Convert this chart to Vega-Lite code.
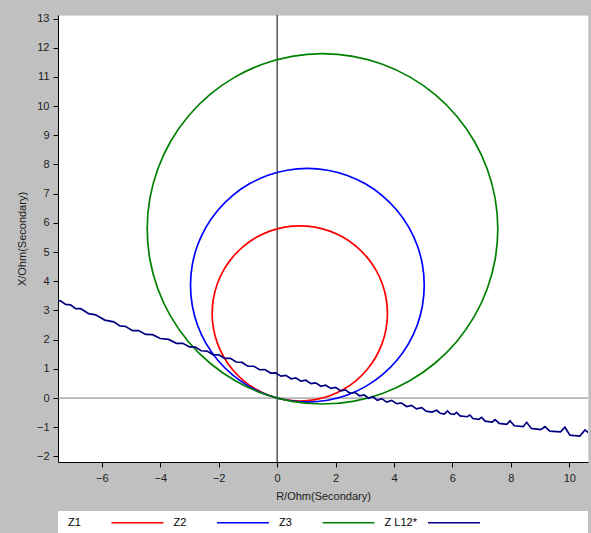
{
"$schema": "https://vega.github.io/schema/vega-lite/v6.json",
"width": 530, "height": 447,
"autosize": {"type": "none"},
"padding": {"left": 58, "top": 15, "right": 3, "bottom": 71},
"background": "#c0c0c0",
"config": {
  "view": {"fill": "#ffffff", "stroke": "#d8d8d8", "strokeWidth": 1},
  "axis": {"labelFont": "Liberation Sans", "labelFontSize": 11, "labelColor": "#202020", "titleFont": "Liberation Sans", "titleFontSize": 11, "titleFontWeight": "normal", "titleColor": "#202020", "domainColor": "#000000", "tickColor": "#000000", "tickSize": 5, "grid": false, "domainWidth": 1, "labelOverlap": false},
  "legend": {"orient": "bottom", "direction": "horizontal", "symbolType": "M 45 0 L 97 0", "symbolSize": 4, "symbolOffset": -3, "labelOffset": -4, "padding": 6, "fillColor": "#ffffff", "offset": 10, "columnPadding": 2.5, "labelFont": "Liberation Sans", "labelFontSize": 11, "labelColor": "#000000", "titleOrient": "right", "titlePadding": 99, "titleFontSize": 11}
},
"datasets": {
  "zero": [{"v": 0}],
  "circles": [
{"s":"Z1","i":0,"x":3.776,"y":2.898},{"s":"Z1","i":1,"x":3.730,"y":3.419},{"s":"Z1","i":2,"x":3.595,"y":3.924},{"s":"Z1","i":3,"x":3.374,"y":4.398},{"s":"Z1","i":4,"x":3.074,"y":4.826},{"s":"Z1","i":5,"x":2.704,"y":5.196},{"s":"Z1","i":6,"x":2.276,"y":5.496},{"s":"Z1","i":7,"x":1.802,"y":5.717},{"s":"Z1","i":8,"x":1.297,"y":5.852},{"s":"Z1","i":9,"x":0.776,"y":5.898},{"s":"Z1","i":10,"x":0.255,"y":5.852},{"s":"Z1","i":11,"x":-0.250,"y":5.717},{"s":"Z1","i":12,"x":-0.724,"y":5.496},{"s":"Z1","i":13,"x":-1.152,"y":5.196},{"s":"Z1","i":14,"x":-1.522,"y":4.826},{"s":"Z1","i":15,"x":-1.822,"y":4.398},{"s":"Z1","i":16,"x":-2.043,"y":3.924},{"s":"Z1","i":17,"x":-2.178,"y":3.419},{"s":"Z1","i":18,"x":-2.224,"y":2.898},{"s":"Z1","i":19,"x":-2.178,"y":2.377},{"s":"Z1","i":20,"x":-2.043,"y":1.872},{"s":"Z1","i":21,"x":-1.822,"y":1.398},{"s":"Z1","i":22,"x":-1.522,"y":0.970},{"s":"Z1","i":23,"x":-1.152,"y":0.600},{"s":"Z1","i":24,"x":-0.724,"y":0.300},{"s":"Z1","i":25,"x":-0.250,"y":0.079},{"s":"Z1","i":26,"x":0.255,"y":-0.056},{"s":"Z1","i":27,"x":0.776,"y":-0.102},{"s":"Z1","i":28,"x":1.297,"y":-0.056},{"s":"Z1","i":29,"x":1.802,"y":0.079},{"s":"Z1","i":30,"x":2.276,"y":0.300},{"s":"Z1","i":31,"x":2.704,"y":0.600},{"s":"Z1","i":32,"x":3.074,"y":0.970},{"s":"Z1","i":33,"x":3.374,"y":1.398},{"s":"Z1","i":34,"x":3.595,"y":1.872},{"s":"Z1","i":35,"x":3.730,"y":2.377},
{"s":"Z2","i":0,"x":5.035,"y":3.864},{"s":"Z2","i":1,"x":4.974,"y":4.559},{"s":"Z2","i":2,"x":4.794,"y":5.232},{"s":"Z2","i":3,"x":4.499,"y":5.864},{"s":"Z2","i":4,"x":4.099,"y":6.435},{"s":"Z2","i":5,"x":3.606,"y":6.928},{"s":"Z2","i":6,"x":3.035,"y":7.328},{"s":"Z2","i":7,"x":2.403,"y":7.623},{"s":"Z2","i":8,"x":1.730,"y":7.803},{"s":"Z2","i":9,"x":1.035,"y":7.864},{"s":"Z2","i":10,"x":0.340,"y":7.803},{"s":"Z2","i":11,"x":-0.333,"y":7.623},{"s":"Z2","i":12,"x":-0.965,"y":7.328},{"s":"Z2","i":13,"x":-1.536,"y":6.928},{"s":"Z2","i":14,"x":-2.029,"y":6.435},{"s":"Z2","i":15,"x":-2.429,"y":5.864},{"s":"Z2","i":16,"x":-2.724,"y":5.232},{"s":"Z2","i":17,"x":-2.904,"y":4.559},{"s":"Z2","i":18,"x":-2.965,"y":3.864},{"s":"Z2","i":19,"x":-2.904,"y":3.169},{"s":"Z2","i":20,"x":-2.724,"y":2.496},{"s":"Z2","i":21,"x":-2.429,"y":1.864},{"s":"Z2","i":22,"x":-2.029,"y":1.293},{"s":"Z2","i":23,"x":-1.536,"y":0.800},{"s":"Z2","i":24,"x":-0.965,"y":0.400},{"s":"Z2","i":25,"x":-0.333,"y":0.105},{"s":"Z2","i":26,"x":0.340,"y":-0.075},{"s":"Z2","i":27,"x":1.035,"y":-0.136},{"s":"Z2","i":28,"x":1.730,"y":-0.075},{"s":"Z2","i":29,"x":2.403,"y":0.105},{"s":"Z2","i":30,"x":3.035,"y":0.400},{"s":"Z2","i":31,"x":3.606,"y":0.800},{"s":"Z2","i":32,"x":4.099,"y":1.293},{"s":"Z2","i":33,"x":4.499,"y":1.864},{"s":"Z2","i":34,"x":4.794,"y":2.496},{"s":"Z2","i":35,"x":4.974,"y":3.169},
{"s":"Z3","i":0,"x":7.553,"y":5.796},{"s":"Z3","i":1,"x":7.462,"y":6.838},{"s":"Z3","i":2,"x":7.191,"y":7.848},{"s":"Z3","i":3,"x":6.749,"y":8.796},{"s":"Z3","i":4,"x":6.149,"y":9.653},{"s":"Z3","i":5,"x":5.410,"y":10.392},{"s":"Z3","i":6,"x":4.553,"y":10.992},{"s":"Z3","i":7,"x":3.605,"y":11.434},{"s":"Z3","i":8,"x":2.595,"y":11.705},{"s":"Z3","i":9,"x":1.553,"y":11.796},{"s":"Z3","i":10,"x":0.511,"y":11.705},{"s":"Z3","i":11,"x":-0.499,"y":11.434},{"s":"Z3","i":12,"x":-1.447,"y":10.992},{"s":"Z3","i":13,"x":-2.304,"y":10.392},{"s":"Z3","i":14,"x":-3.043,"y":9.653},{"s":"Z3","i":15,"x":-3.643,"y":8.796},{"s":"Z3","i":16,"x":-4.085,"y":7.848},{"s":"Z3","i":17,"x":-4.356,"y":6.838},{"s":"Z3","i":18,"x":-4.447,"y":5.796},{"s":"Z3","i":19,"x":-4.356,"y":4.754},{"s":"Z3","i":20,"x":-4.085,"y":3.744},{"s":"Z3","i":21,"x":-3.643,"y":2.796},{"s":"Z3","i":22,"x":-3.043,"y":1.939},{"s":"Z3","i":23,"x":-2.304,"y":1.200},{"s":"Z3","i":24,"x":-1.447,"y":0.600},{"s":"Z3","i":25,"x":-0.499,"y":0.158},{"s":"Z3","i":26,"x":0.511,"y":-0.113},{"s":"Z3","i":27,"x":1.553,"y":-0.204},{"s":"Z3","i":28,"x":2.595,"y":-0.113},{"s":"Z3","i":29,"x":3.605,"y":0.158},{"s":"Z3","i":30,"x":4.553,"y":0.600},{"s":"Z3","i":31,"x":5.410,"y":1.200},{"s":"Z3","i":32,"x":6.149,"y":1.939},{"s":"Z3","i":33,"x":6.749,"y":2.796},{"s":"Z3","i":34,"x":7.191,"y":3.744},{"s":"Z3","i":35,"x":7.462,"y":4.754}
  ],
  "zl": [
{"s":"Z L12*","i":0,"x":-7.58,"y":3.43},{"s":"Z L12*","i":1,"x":-7.48,"y":3.34},{"s":"Z L12*","i":2,"x":-7.41,"y":3.33},{"s":"Z L12*","i":3,"x":-7.24,"y":3.21},{"s":"Z L12*","i":4,"x":-7.07,"y":3.19},{"s":"Z L12*","i":5,"x":-6.9,"y":3.065},{"s":"Z L12*","i":6,"x":-6.72,"y":3.06},{"s":"Z L12*","i":7,"x":-6.45,"y":2.89},{"s":"Z L12*","i":8,"x":-6.21,"y":2.85},{"s":"Z L12*","i":9,"x":-5.9,"y":2.67},{"s":"Z L12*","i":10,"x":-5.59,"y":2.61},{"s":"Z L12*","i":11,"x":-5.38,"y":2.47},{"s":"Z L12*","i":12,"x":-5.18,"y":2.45},{"s":"Z L12*","i":13,"x":-4.95,"y":2.31},{"s":"Z L12*","i":14,"x":-4.74,"y":2.31},{"s":"Z L12*","i":15,"x":-4.5,"y":2.18},{"s":"Z L12*","i":16,"x":-4.26,"y":2.17},{"s":"Z L12*","i":17,"x":-4.0,"y":2.04},{"s":"Z L12*","i":18,"x":-3.71,"y":2.01},{"s":"Z L12*","i":19,"x":-3.45,"y":1.875},{"s":"Z L12*","i":20,"x":-3.23,"y":1.875},{"s":"Z L12*","i":21,"x":-3.0,"y":1.75},{"s":"Z L12*","i":22,"x":-2.8,"y":1.745},{"s":"Z L12*","i":23,"x":-2.6,"y":1.62},{"s":"Z L12*","i":24,"x":-2.4,"y":1.61},{"s":"Z L12*","i":25,"x":-2.2,"y":1.49},{"s":"Z L12*","i":26,"x":-2.0,"y":1.48},{"s":"Z L12*","i":27,"x":-1.8,"y":1.36},{"s":"Z L12*","i":28,"x":-1.6,"y":1.36},{"s":"Z L12*","i":29,"x":-1.4,"y":1.235},{"s":"Z L12*","i":30,"x":-1.2,"y":1.22},{"s":"Z L12*","i":31,"x":-1.0,"y":1.09},{"s":"Z L12*","i":32,"x":-0.8,"y":1.09},{"s":"Z L12*","i":33,"x":-0.6,"y":0.97},{"s":"Z L12*","i":34,"x":-0.42,"y":0.975},{"s":"Z L12*","i":35,"x":-0.22,"y":0.855},{"s":"Z L12*","i":36,"x":-0.05,"y":0.865},{"s":"Z L12*","i":37,"x":0.13,"y":0.75},{"s":"Z L12*","i":38,"x":0.3,"y":0.777},{"s":"Z L12*","i":39,"x":0.48,"y":0.66},{"s":"Z L12*","i":40,"x":0.64,"y":0.69},{"s":"Z L12*","i":41,"x":0.82,"y":0.578},{"s":"Z L12*","i":42,"x":0.98,"y":0.61},{"s":"Z L12*","i":43,"x":1.16,"y":0.493},{"s":"Z L12*","i":44,"x":1.32,"y":0.52},{"s":"Z L12*","i":45,"x":1.5,"y":0.405},{"s":"Z L12*","i":46,"x":1.66,"y":0.44},{"s":"Z L12*","i":47,"x":1.84,"y":0.33},{"s":"Z L12*","i":48,"x":2.0,"y":0.365},{"s":"Z L12*","i":49,"x":2.17,"y":0.25},{"s":"Z L12*","i":50,"x":2.33,"y":0.28},{"s":"Z L12*","i":51,"x":2.5,"y":0.165},{"s":"Z L12*","i":52,"x":2.66,"y":0.195},{"s":"Z L12*","i":53,"x":2.82,"y":0.08},{"s":"Z L12*","i":54,"x":2.98,"y":0.11},{"s":"Z L12*","i":55,"x":3.13,"y":-0.005},{"s":"Z L12*","i":56,"x":3.28,"y":0.045},{"s":"Z L12*","i":57,"x":3.43,"y":-0.08},{"s":"Z L12*","i":58,"x":3.58,"y":-0.02},{"s":"Z L12*","i":59,"x":3.75,"y":-0.14},{"s":"Z L12*","i":60,"x":3.92,"y":-0.08},{"s":"Z L12*","i":61,"x":4.09,"y":-0.19},{"s":"Z L12*","i":62,"x":4.26,"y":-0.17},{"s":"Z L12*","i":63,"x":4.43,"y":-0.29},{"s":"Z L12*","i":64,"x":4.6,"y":-0.25},{"s":"Z L12*","i":65,"x":4.77,"y":-0.37},{"s":"Z L12*","i":66,"x":4.95,"y":-0.33},{"s":"Z L12*","i":67,"x":5.1,"y":-0.45},{"s":"Z L12*","i":68,"x":5.3,"y":-0.48},{"s":"Z L12*","i":69,"x":5.46,"y":-0.42},{"s":"Z L12*","i":70,"x":5.58,"y":-0.52},{"s":"Z L12*","i":71,"x":5.72,"y":-0.55},{"s":"Z L12*","i":72,"x":5.83,"y":-0.44},{"s":"Z L12*","i":73,"x":5.93,"y":-0.54},{"s":"Z L12*","i":74,"x":6.06,"y":-0.56},{"s":"Z L12*","i":75,"x":6.14,"y":-0.49},{"s":"Z L12*","i":76,"x":6.26,"y":-0.61},{"s":"Z L12*","i":77,"x":6.5,"y":-0.64},{"s":"Z L12*","i":78,"x":6.6,"y":-0.58},{"s":"Z L12*","i":79,"x":6.7,"y":-0.7},{"s":"Z L12*","i":80,"x":6.9,"y":-0.73},{"s":"Z L12*","i":81,"x":7.0,"y":-0.66},{"s":"Z L12*","i":82,"x":7.12,"y":-0.79},{"s":"Z L12*","i":83,"x":7.36,"y":-0.82},{"s":"Z L12*","i":84,"x":7.46,"y":-0.74},{"s":"Z L12*","i":85,"x":7.6,"y":-0.87},{"s":"Z L12*","i":86,"x":7.86,"y":-0.9},{"s":"Z L12*","i":87,"x":7.97,"y":-0.78},{"s":"Z L12*","i":88,"x":8.12,"y":-0.95},{"s":"Z L12*","i":89,"x":8.42,"y":-0.98},{"s":"Z L12*","i":90,"x":8.54,"y":-0.83},{"s":"Z L12*","i":91,"x":8.7,"y":-1.04},{"s":"Z L12*","i":92,"x":9.02,"y":-1.08},{"s":"Z L12*","i":93,"x":9.17,"y":-0.98},{"s":"Z L12*","i":94,"x":9.33,"y":-1.13},{"s":"Z L12*","i":95,"x":9.7,"y":-1.16},{"s":"Z L12*","i":96,"x":9.85,"y":-1.0},{"s":"Z L12*","i":97,"x":10.02,"y":-1.27},{"s":"Z L12*","i":98,"x":10.36,"y":-1.3},{"s":"Z L12*","i":99,"x":10.54,"y":-1.09},{"s":"Z L12*","i":100,"x":10.71,"y":-1.23}
  ]
},
"layer": [
  {
    "data": {"name": "zero"},
    "mark": {"type": "rule", "color": "#000000", "strokeWidth": 1},
    "encoding": {
      "x": {"field": "v", "type": "quantitative", "title": "R/Ohm(Secondary)",
            "scale": {"domain": [-7.5, 10.64], "nice": false, "zero": false},
            "axis": {"values": [-6, -4, -2, 0, 2, 4, 6, 8, 10], "labelPadding": 5, "titlePadding": 7, "labelOverlap": false}}
    }
  },
  {
    "data": {"name": "zero"},
    "mark": {"type": "rule", "color": "#808080", "strokeWidth": 1},
    "encoding": {
      "y": {"field": "v", "type": "quantitative", "title": "X/Ohm(Secondary)",
            "scale": {"domain": [-2.19, 13.12], "nice": false, "zero": false},
            "axis": {"values": [-2, -1, 0, 1, 2, 3, 4, 5, 6, 7, 8, 9, 10, 11, 12, 13], "tickCount": 16, "labelPadding": 4, "titlePadding": 9, "labelOverlap": false, "labelSeparation": 0}}
    }
  },
  {
    "data": {"name": "circles"},
    "mark": {"type": "line", "clip": true, "interpolate": "cardinal-closed"},
    "encoding": {
      "x": {"field": "x", "type": "quantitative", "title": "R/Ohm(Secondary)",
            "scale": {"domain": [-7.5, 10.64], "nice": false, "zero": false},
            "axis": {"values": [-6, -4, -2, 0, 2, 4, 6, 8, 10], "labelPadding": 5, "titlePadding": 7, "labelOverlap": false}},
      "y": {"field": "y", "type": "quantitative", "title": "X/Ohm(Secondary)",
            "scale": {"domain": [-2.19, 13.12], "nice": false, "zero": false},
            "axis": {"values": [-2, -1, 0, 1, 2, 3, 4, 5, 6, 7, 8, 9, 10, 11, 12, 13], "tickCount": 16, "labelPadding": 4, "titlePadding": 9, "labelOverlap": false, "labelSeparation": 0}},
      "order": {"field": "i", "type": "quantitative"},
      "color": {"field": "s", "type": "nominal",
                "scale": {"domain": ["Z1", "Z2", "Z3", "Z L12*"], "range": ["#ff0000", "#0000ff", "#008000", "#000080"]},
                "legend": {"title": "\u00a0"}},
      "strokeWidth": {"field": "s", "type": "nominal",
                "scale": {"domain": ["Z1", "Z2", "Z3", "Z L12*"], "range": [1.7, 1.7, 1.7, 3.3]},
                "legend": {"title": "\u00a0"}}
    }
  },
  {
    "data": {"name": "zl"},
    "mark": {"type": "line", "clip": true},
    "encoding": {
      "x": {"field": "x", "type": "quantitative", "title": "R/Ohm(Secondary)"},
      "y": {"field": "y", "type": "quantitative", "title": "X/Ohm(Secondary)"},
      "order": {"field": "i", "type": "quantitative"},
      "color": {"field": "s", "type": "nominal", "legend": {"title": "\u00a0"}},
      "strokeWidth": {"field": "s", "type": "nominal", "legend": {"title": "\u00a0"}}
    }
  }
]
}
